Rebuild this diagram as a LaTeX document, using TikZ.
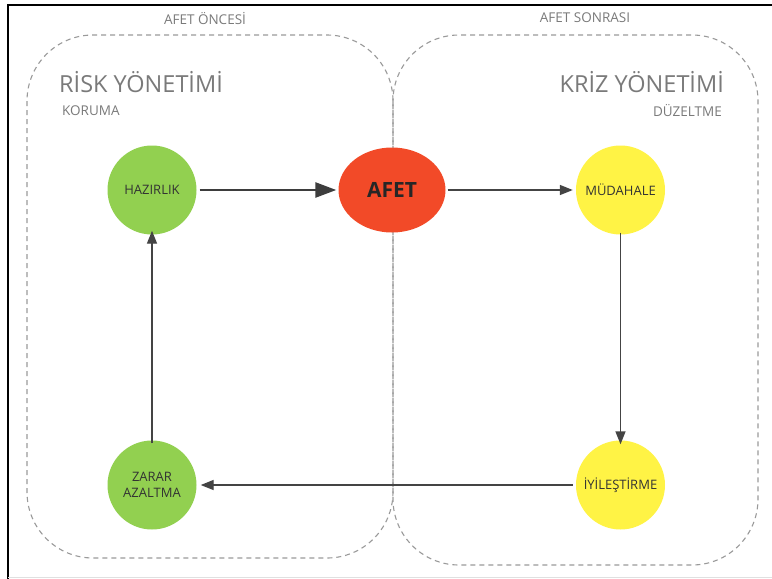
\documentclass[tikz,border=0pt]{standalone}
\usepackage{fontspec}
\setmainfont{Open Sans}
\usetikzlibrary{arrows.meta,shapes.geometric}
\definecolor{lgreen}{HTML}{92D050}
\definecolor{afetred}{HTML}{F24A28}
\definecolor{yel}{HTML}{FFF345}
\definecolor{grtxt}{HTML}{7A7A7A}
\definecolor{dashc}{HTML}{9A9A9A}
\definecolor{arr}{HTML}{444444}
\tikzset{
  phase/.style={draw=dashc, line width=1.1pt, dash pattern=on 5pt off 4pt, rounded corners=66pt},
  stage/.style={circle, minimum size=89pt, inner sep=0pt, align=center, text=black!80, font=\fontsize{13}{15.5}\selectfont},
  flow/.style={draw=arr, line width=1.4pt, -{Triangle[length=13pt,width=10pt]}},
  bigflow/.style={draw=arr!90!black, line width=2.6pt, -{Triangle[length=21pt,width=15pt]}},
  heading/.style={text=grtxt, font=\fontsize{23.5}{27}\selectfont, inner sep=0pt},
  sub/.style={text=grtxt, font=\fontsize{13.5}{16}\selectfont, inner sep=0pt},
}
\begin{document}
\begin{tikzpicture}[x=1pt, y=-1pt]
\useasboundingbox (0,0) rectangle (772,579);
\fill[white] (0,0) rectangle (772,579);
% frame
\draw[black, line width=2.5pt] (8,579) -- (8,5) -- (772,5);
\draw[black!12, line width=1.2pt] (8,577.5) -- (772,577.5);
% phase boxes
\draw[phase] (27,35) rectangle (393,558);
\draw[phase] (393,35) rectangle (758,565);
% phase titles
\node[sub] (t1) at (205,18) {AFET ÖNCESİ};
\node[sub] (t2) at (585,18) {AFET SONRASI};
\node[heading, anchor=west] (risk) at (59,82) {RİSK YÖNETİMİ};
\node[sub, anchor=west] (kor) at (62,111) {KORUMA};
\node[heading, anchor=east] (kriz) at (724,82) {KRİZ YÖNETİMİ};
\node[sub, anchor=east] (duz) at (722,111) {DÜZELTME};
% stages
\node[stage, fill=lgreen] (haz) at (152,190) {HAZIRLIK};
\node[ellipse, fill=afetred, minimum width=107pt, minimum height=85pt, inner sep=0pt,
      font=\fontsize{21}{24}\selectfont\bfseries, text=black!85] (afet) at (392,190) {AFET};
\node[stage, fill=yel] (mud) at (620.5,190) {MÜDAHALE};
\node[stage, fill=yel] (iyi) at (620.5,485) {İYİLEŞTİRME};
\node[stage, fill=lgreen] (zar) at (152,485) {ZARAR\\AZALTMA};
% connectors
\draw[bigflow] ([xshift=3pt]haz.east) -- ([xshift=-2pt]afet.west);
\draw[flow] ([xshift=2pt]afet.east) -- ([xshift=-3pt]mud.west);
\draw[flow] ([yshift=2pt]mud.south) -- ([yshift=-4pt]iyi.north);
\draw[flow] ([xshift=-3pt]iyi.west) -- ([xshift=4pt]zar.east);
\draw[flow] ([yshift=-3pt]zar.north) -- ([yshift=4pt]haz.south);
\end{tikzpicture}
\end{document}
